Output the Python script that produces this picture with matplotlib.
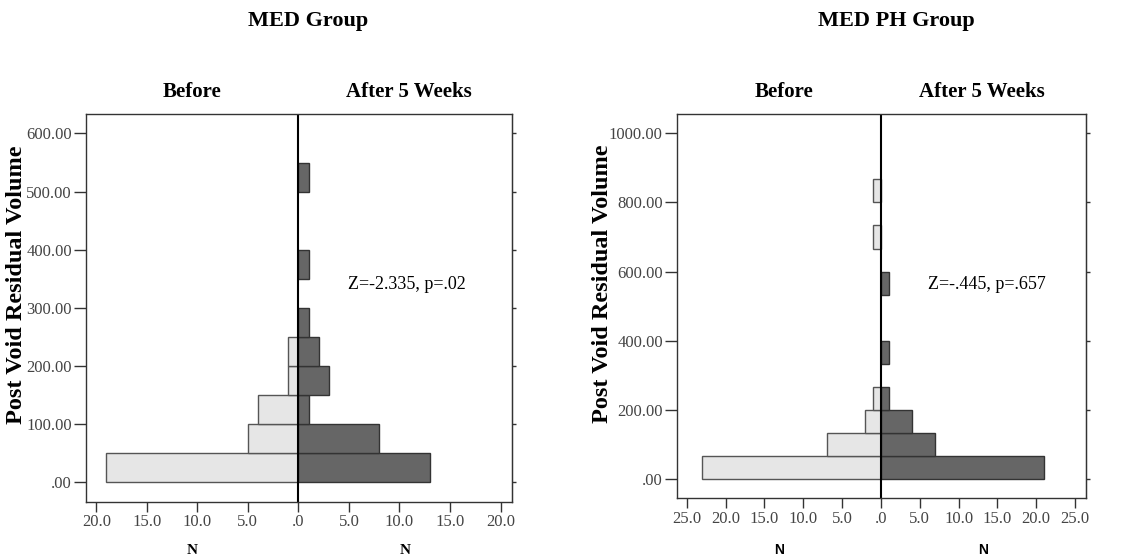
import matplotlib.pyplot as plt
import numpy as np

# MED Group, PVR bins of 50
med_binw = 50
med_before = [19, 5, 4, 1, 1, 0, 0, 0, 0, 0, 0]
med_after = [13, 8, 1, 3, 2, 1, 0, 1, 0, 0, 1]
med_yticks = [0, 100, 200, 300, 400, 500, 600]
med_xticks = [-20, -15, -10, -5, 0, 5, 10, 15, 20]

# MED PH Group, PVR bins of 1000/15
ph_binw = 1000 / 15
ph_before = [23, 7, 2, 1, 0, 0, 0, 0, 0, 0, 1, 0, 1]
ph_after = [21, 7, 4, 1, 0, 1, 0, 0, 1, 0, 0, 0, 0]
ph_yticks = [0, 200, 400, 600, 800, 1000]
ph_xticks = [-25, -20, -15, -10, -5, 0, 5, 10, 15, 20, 25]

serif = 'Liberation Serif'
tick_col = '#444444'


def fmt(v, d):
    s = ('%.' + str(d) + 'f') % abs(v)
    if s.startswith('0'):
        s = s[1:]
    return s


def pyramid(ax, before, after, binw, yticks, xticks, xlim, ylim, ztext, zpos):
    edges = np.arange(len(before)) * binw
    b = np.array(before)
    a = np.array(after)
    mb = b > 0
    ma = a > 0
    ax.barh(edges[mb], -b[mb], height=binw, align='edge', color='#e6e6e6',
            edgecolor='#555555', linewidth=1)
    ax.barh(edges[ma], a[ma], height=binw, align='edge', color='#666666',
            edgecolor='#333333', linewidth=1)
    ax.axvline(0, color='black', linewidth=1.5)
    ax.set_xlim(xlim)
    ax.set_ylim(ylim)
    ax.set_yticks(yticks)
    ax.set_yticklabels([fmt(v, 2) for v in yticks], family=serif, fontsize=12, color=tick_col)
    ax.set_xticks(xticks)
    ax.set_xticklabels([fmt(v, 1) for v in xticks], family=serif, fontsize=12, color=tick_col)
    ax.tick_params(axis='x', length=7, width=1, pad=2, color='#333333')
    ax.tick_params(axis='y', length=9, width=1, pad=1, color='#333333')
    # short ticks on the right frame
    sec = ax.secondary_yaxis('right')
    sec.set_yticks(yticks)
    sec.set_yticklabels([])
    sec.tick_params(length=3, width=1, color='#333333')
    sec.spines['right'].set_color('#333333')
    for s in ax.spines.values():
        s.set_color('#333333')
        s.set_linewidth(1)
    ax.text(zpos[0], zpos[1], ztext, family=serif, fontsize=13, ha='center', va='center')


fig = plt.figure(figsize=(11.3, 5.57), dpi=100)

ax1 = fig.add_axes([0.0758, 0.0993, 0.377, 0.6955])
pyramid(ax1, med_before, med_after, med_binw, med_yticks, med_xticks,
        (-21.05, 21.1), (-33, 633), 'Z=-2.335, p=.02', (10.7, 341))

ax2 = fig.add_axes([0.5988, 0.1054, 0.3622, 0.6894])
pyramid(ax2, ph_before, ph_after, ph_binw, ph_yticks, ph_xticks,
        (-26.3, 26.4), (-56, 1055), 'Z=-.445, p=.657', (13.7, 563))

W, H = 1130, 557


def ftext(x, y, s, **kw):
    fig.text(x / W, 1 - y / H, s, ha='center', va='center', **kw)


ftext(308, 21, 'MED Group', family=serif, fontsize=16, fontweight='bold')
ftext(896, 21, 'MED PH Group', family=serif, fontsize=16, fontweight='bold')
ftext(192, 92, 'Before', family=serif, fontsize=15, fontweight='bold')
ftext(409, 92, 'After 5 Weeks', family=serif, fontsize=15, fontweight='bold')
ftext(784, 92, 'Before', family=serif, fontsize=15, fontweight='bold')
ftext(982, 92, 'After 5 Weeks', family=serif, fontsize=15, fontweight='bold')
ftext(17, 285, 'Post Void Residual Volume', family=serif, fontsize=17.5,
      fontweight='bold', rotation=90)
ftext(603, 284, 'Post Void Residual Volume', family=serif, fontsize=17.5,
      fontweight='bold', rotation=90)
ftext(192, 550, 'N', family=serif, fontsize=11, fontweight='bold')
ftext(405, 550, 'N', family=serif, fontsize=11, fontweight='bold')
ftext(779, 550, 'N', family='Liberation Sans', fontsize=10, fontweight='bold')
ftext(983, 550, 'N', family='Liberation Sans', fontsize=10, fontweight='bold')

fig.savefig('out.png', dpi=100)
